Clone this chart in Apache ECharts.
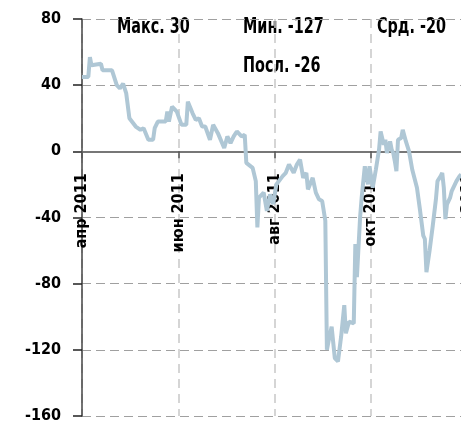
<!DOCTYPE html>
<html>
<head>
<meta charset="utf-8">
<script src="https://cdn.jsdelivr.net/npm/echarts@6/dist/echarts.min.js"></script>
<style>
html,body{margin:0;padding:0;background:#fff;}
#chart{width:461px;height:430px;}
</style>
</head>
<body>
<div id="chart"></div>
<script>
// ---- data ----
const startDate = '2011-04-01';
const dates = [
 '2011-04-01','2011-04-05','2011-04-06','2011-04-07','2011-04-13','2011-04-14','2011-04-20','2011-04-23','2011-04-25','2011-04-27',
 '2011-04-29','2011-05-01','2011-05-05','2011-05-08','2011-05-10','2011-05-13','2011-05-16','2011-05-17','2011-05-19','2011-05-24',
 '2011-05-25','2011-05-26','2011-05-28','2011-05-31','2011-06-03','2011-06-06','2011-06-07','2011-06-10','2011-06-12','2011-06-14',
 '2011-06-16','2011-06-18','2011-06-21','2011-06-23','2011-06-26','2011-06-30','2011-07-02','2011-07-04','2011-07-06','2011-07-08',
 '2011-07-11','2011-07-13','2011-07-14','2011-07-18','2011-07-20','2011-07-21','2011-07-22','2011-07-25','2011-07-27','2011-07-29',
 '2011-07-31','2011-08-02','2011-08-06','2011-08-08','2011-08-10','2011-08-13','2011-08-15','2011-08-17','2011-08-19','2011-08-21',
 '2011-08-22','2011-08-25','2011-08-27','2011-08-29','2011-08-31','2011-09-02','2011-09-03','2011-09-04','2011-09-06','2011-09-08',
 '2011-09-10','2011-09-12','2011-09-14','2011-09-15','2011-09-17','2011-09-20','2011-09-21','2011-09-22','2011-09-24','2011-09-25',
 '2011-09-27','2011-09-29','2011-09-30','2011-10-02','2011-10-04','2011-10-06','2011-10-07','2011-10-09','2011-10-10','2011-10-11',
 '2011-10-13','2011-10-14','2011-10-15','2011-10-16','2011-10-17','2011-10-18','2011-10-20','2011-10-21','2011-10-23','2011-10-25',
 '2011-10-27','2011-10-30','2011-11-01','2011-11-03','2011-11-04','2011-11-05','2011-11-07','2011-11-09','2011-11-11','2011-11-12',
 '2011-11-14','2011-11-15','2011-11-16','2011-11-17','2011-11-18','2011-11-20','2011-11-21','2011-11-22','2011-11-24','2011-11-26',
 '2011-11-27'
];
const values = [
 45,45,57,52,53,49,49,40,38,41,
 35,20,15,13,14,7,7,14,18,18,
 24,18,27,24,16,16,30,23,19,20,
 15,15,7,16,11,2,9,5,9,12,
 9,10,-7,-10,-18,-46,-28,-25,-36,-26,
 -32,-20,-15,-13,-8,-13,-8,-5,-16,-13,
 -23,-16,-25,-29,-30,-42,-120,-115,-106,-125,
 -127,-112,-93,-110,-103,-104,-56,-76,-40,-28,
 -9,-20,-9,-22,-11,1,12,4,7,-1,
 6,1,-1,-6,-12,7,8,13,6,0,
 -11,-22,-36,-51,-53,-73,-60,-45,-29,-18,
 -15,-13,-22,-41,-32,-28,-24,-25,-18,-15,
 -14
];
const monthNames = ['янв','фев','мар','апр','май','июн','июл','авг','сен','окт','ноя','дек'];
const yTicks = [-160, -120, -80, -40, 0, 40, 80];
const statLabels = ['Макс.', 'Мин.', 'Срд.', 'Посл.'];
const statValues = [30, -127, -20, -26];

// ---- build ----
const DAY = 86400000;
const t0 = Date.parse(startDate + 'T00:00:00Z');
const dayOf = s => Math.round((Date.parse(s + 'T00:00:00Z') - t0) / DAY);
const seriesData = dates.map((d, i) => [dayOf(d), values[i]]);

const FONT = '"DejaVu Sans Condensed", "DejaVu Sans", sans-serif';
const FW = 'bold';
const FS = 16;
const GRID_TOP = 19, GRID_BOTTOM = 14, H = 430;
const plotH = H - GRID_TOP - GRID_BOTTOM;
const ymin = yTicks[0], ymax = yTicks[yTicks.length - 1];
// shift the x axis up from the bottom edge of the grid to the value 0
const zeroOffset = -plotH * (0 - ymin) / (ymax - ymin);

const chart = echarts.init(document.getElementById('chart'), null, {renderer: 'canvas'});

function statText(i, x, y) {
  return {
    type: 'text', x: x, y: y, scaleY: 1.3, silent: true,
    style: {
      text: statLabels[i] + ' ' + statValues[i],
      verticalAlign: 'middle',
      fontFamily: FONT, fontSize: FS, fontWeight: FW, fill: '#000'
    }
  };
}

chart.setOption({
  animation: false,
  backgroundColor: '#fff',
  grid: {left: 82, right: -16, top: GRID_TOP, bottom: GRID_BOTTOM, containLabel: false, outerBoundsMode: 'none'},
  xAxis: {
    type: 'value',
    z: 0,
    min: 0, max: 250, interval: 61,
    offset: zeroOffset,
    axisLine: {show: true, onZero: false, lineStyle: {color: '#777', width: 2}},
    axisTick: {show: true, length: 7, lineStyle: {color: '#555', width: 1.5}},
    axisLabel: {
      rotate: 90, margin: 22, color: '#000',
      fontFamily: FONT, fontSize: FS, fontWeight: FW,
      showMaxLabel: false, hideOverlap: false,
      formatter: v => {
        const d = new Date(t0 + v * DAY);
        return monthNames[d.getUTCMonth()] + ' ' + d.getUTCFullYear();
      }
    },
    splitLine: {show: true, lineStyle: {color: '#c8c8c8', width: 1.5, type: [9, 6]}}
  },
  yAxis: {
    type: 'value',
    z: 0,
    min: ymin, max: ymax, interval: 40,
    axisLine: {show: true, onZero: false, lineStyle: {color: '#444', width: 1.5}},
    axisTick: {show: true, length: 9, lineStyle: {color: '#222', width: 1.5}},
    axisLabel: {margin: 21, color: '#000', fontFamily: FONT, fontSize: FS, fontWeight: FW},
    splitLine: {show: true, lineStyle: {color: '#a0a0a0', width: 1, type: [9, 5]}}
  },
  series: [{
    type: 'line',
    z: 10,
    data: seriesData,
    showSymbol: false,
    symbol: 'none',
    lineStyle: {color: '#afc7d5', width: 4},
    clip: true
  }],
  graphic: [
    statText(0, 117, 28),
    statText(1, 243, 28),
    statText(2, 377, 28),
    statText(3, 243, 67)
  ]
});
</script>
</body>
</html>
